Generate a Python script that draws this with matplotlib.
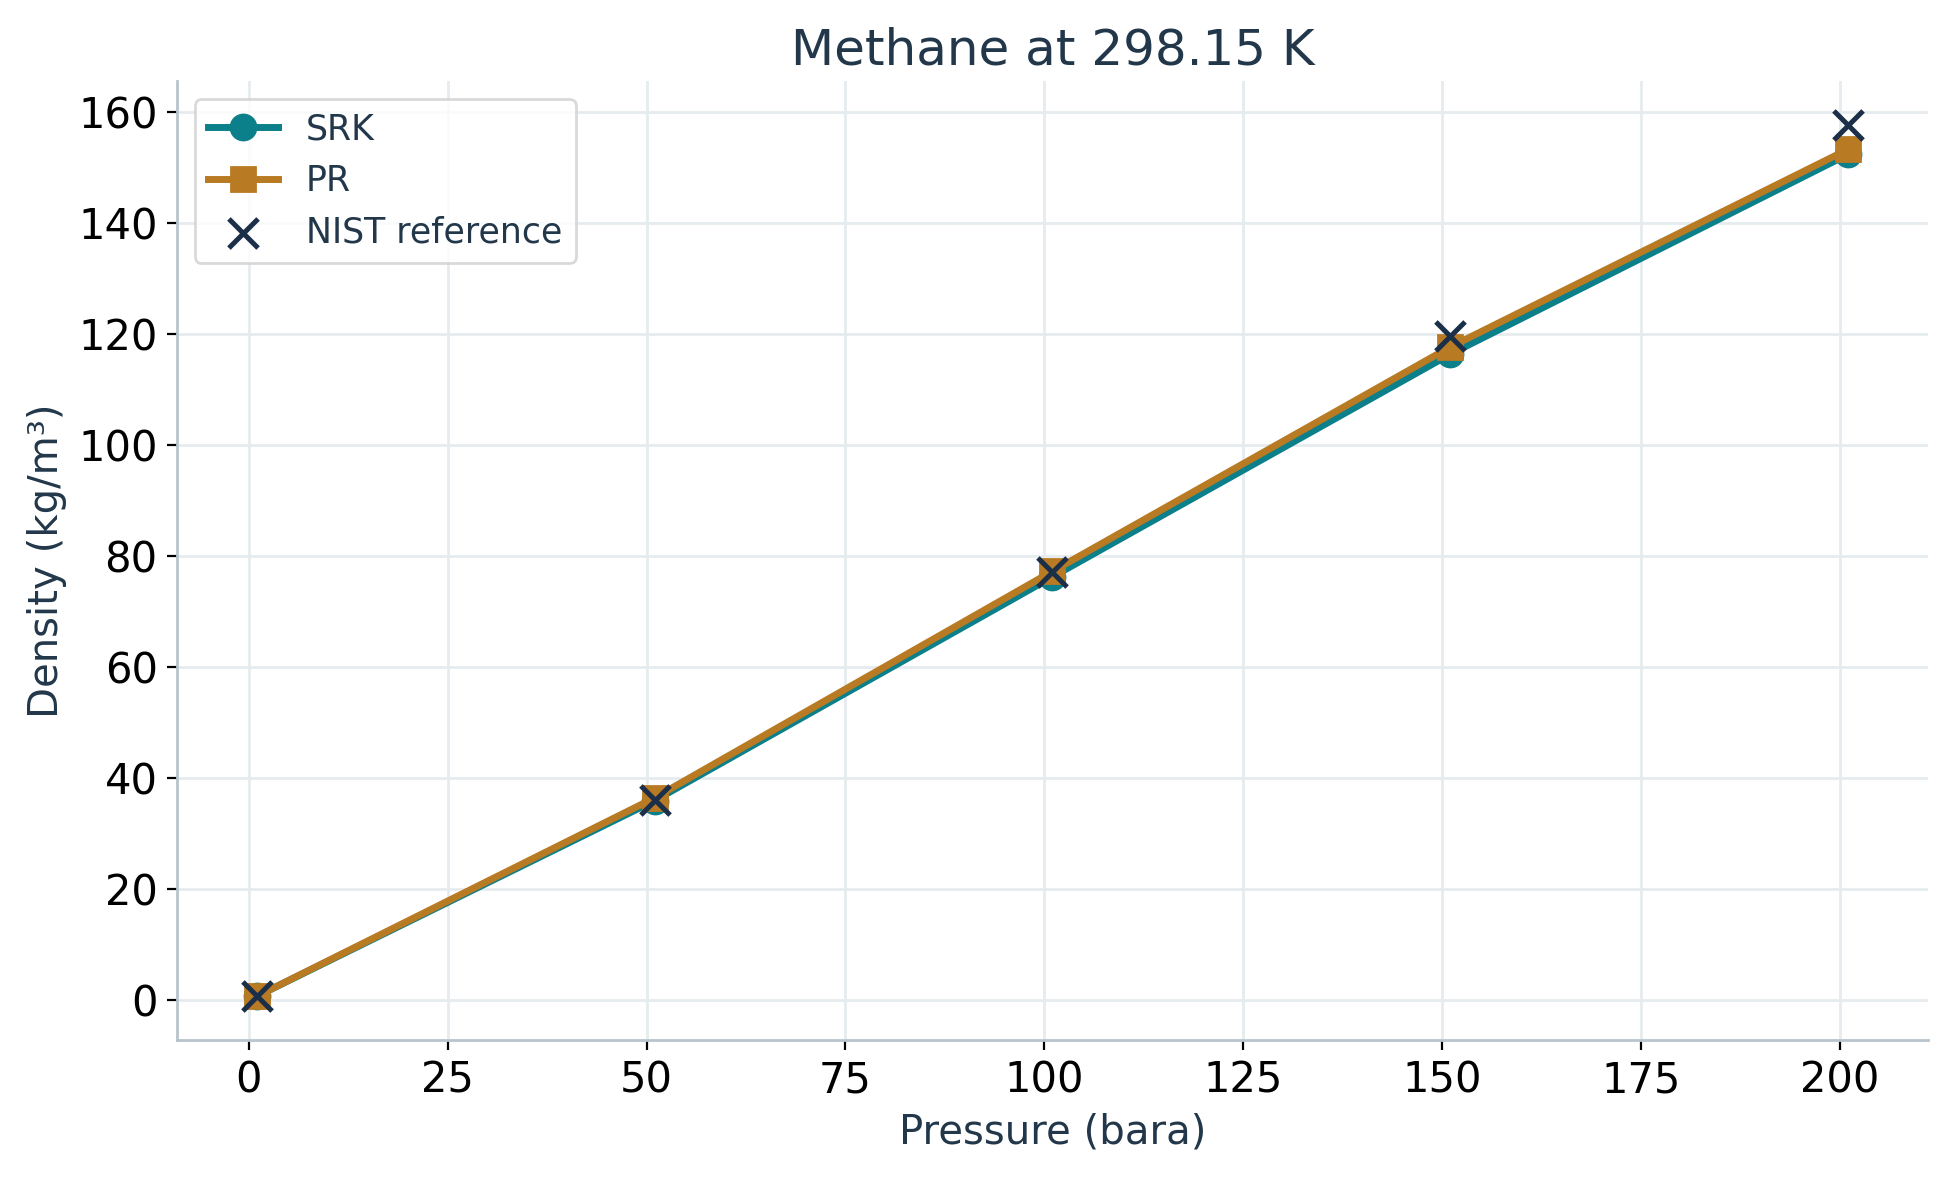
import matplotlib
matplotlib.use("Agg")
import matplotlib.pyplot as plt

# data
pressure = [1.0, 51.0, 101.0, 151.0, 201.0]
rho_srk = [0.66, 35.9, 76.2, 116.3, 152.3]
rho_pr = [0.66, 36.4, 77.2, 117.6, 153.2]
rho_nist = [0.66, 36.1, 77.0, 119.6, 157.6]

text_col = "#22374a"
spine_col = "#b8c4cc"
grid_col = "#e6ebef"

fig, ax = plt.subplots(figsize=(9.735, 5.895), dpi=200)
fig.subplots_adjust(left=0.091, right=0.99, top=0.931, bottom=0.118)

ax.plot(pressure, rho_srk, color="#0b7f8a", marker="o", ms=9, lw=2.5, label="SRK", zorder=2)
ax.plot(pressure, rho_pr, color="#b87a22", marker="s", ms=8.5, lw=2.5, label="PR", zorder=2.5)
ax.scatter(pressure, rho_nist, marker="x", s=110, linewidths=1.8, color="#1b3048",
           label="NIST reference", zorder=3)

ax.set_title("Methane at 298.15 K", fontsize=18, color=text_col)
ax.set_xlabel("Pressure (bara)", fontsize=14.5, color=text_col)
ax.set_ylabel("Density (kg/m³)", fontsize=14.5, color=text_col)
ax.tick_params(labelsize=15)

ax.grid(True, color=grid_col, lw=1.0)
ax.set_axisbelow(True)
for s in ["top", "right"]:
    ax.spines[s].set_visible(False)
for s in ["left", "bottom"]:
    ax.spines[s].set_color(spine_col)
    ax.spines[s].set_linewidth(1.0)

leg = ax.legend(loc="upper left", fontsize=12.5, labelcolor=text_col)
leg.get_frame().set_edgecolor("#d0d0d0")

fig.savefig("out.png", dpi=200)
